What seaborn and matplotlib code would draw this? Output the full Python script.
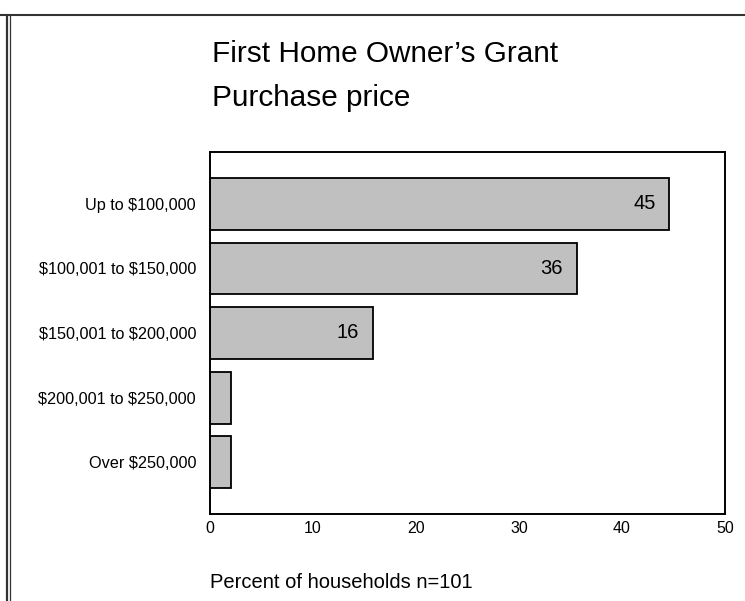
import matplotlib
matplotlib.use("Agg")
import matplotlib.pyplot as plt
from matplotlib.lines import Line2D
import seaborn as sns
import pandas as pd

# Purchase price bands and share of households (%), n=101
categories = ["Up to $100,000", "$100,001 to $150,000", "$150,001 to $200,000",
              "$200,001 to $250,000", "Over $250,000"]
percent = [44.6, 35.6, 15.8, 2.0, 2.0]
labelled = [True, True, True, False, False]
x_ticks = [0, 10, 20, 30, 40, 50]

title_line1 = "First Home Owner\u2019s Grant"
title_line2 = "Purchase price"
x_title = "Percent of households n=101"

sns.set_style("white")
plt.rcParams["font.family"] = ["Liberation Sans", "DejaVu Sans"]
plt.rcParams["text.color"] = "black"
plt.rcParams["xtick.color"] = "black"
plt.rcParams["ytick.color"] = "black"
plt.rcParams["text.parse_math"] = False

df = pd.DataFrame({"band": categories, "pct": percent})

W, H = 745, 601
fig = plt.figure(figsize=(W / 100, H / 100), dpi=100)
ax = fig.add_axes([210 / W, 1 - 514 / H, 515 / W, 362 / H])

sns.barplot(data=df, x="pct", y="band", orient="h", color="#c0c0c0",
            saturation=1, edgecolor="black", linewidth=1.3, width=0.8, ax=ax)

ax.set_xlim(0, 50)
ax.set_ylim(4.8, -0.8)
ax.set_xticks(x_ticks)
ax.set_xticklabels([str(t) for t in x_ticks], fontsize=11.5)
ax.set_yticks(range(len(categories)))
ax.set_yticklabels(categories, fontsize=11.7)
ax.set_xlabel("")
ax.set_ylabel("")
ax.tick_params(axis="y", direction="out", length=3, width=2.2, pad=7, color="#222222")
ax.tick_params(axis="x", direction="out", length=3, width=2.2, pad=2, color="#222222")
for s in ax.spines.values():
    s.set_visible(True)
    s.set_color("black")
    s.set_linewidth(1.4)

# value labels inside the bar ends
for i, (v, show) in enumerate(zip(percent, labelled)):
    if show:
        ax.annotate(f"{v:.0f}", xy=(v, i), xytext=(-10, 0),
                    textcoords="offset points", ha="right", va="center",
                    fontsize=14.5, color="black")

fig.text(212 / W, 1 - 62 / H, title_line1, fontsize=21.4, ha="left", va="baseline")
fig.text(212 / W, 1 - 106 / H, title_line2, fontsize=21.4, ha="left", va="baseline")
fig.text(210 / W, 1 - 583 / H, x_title, fontsize=14.5, ha="left", va="center")

# page frame lines
fig.add_artist(Line2D([0, 1], [1 - 15 / H, 1 - 15 / H], color="#333333", lw=1.5,
                      transform=fig.transFigure))
fig.add_artist(Line2D([7 / W, 7 / W], [0, 1 - 15 / H], color="#333333", lw=1.6,
                      transform=fig.transFigure))
fig.add_artist(Line2D([9.5 / W, 9.5 / W], [0, 1 - 15 / H], color="#333333", lw=0.9,
                      transform=fig.transFigure))

fig.savefig("out.png", dpi=100)
